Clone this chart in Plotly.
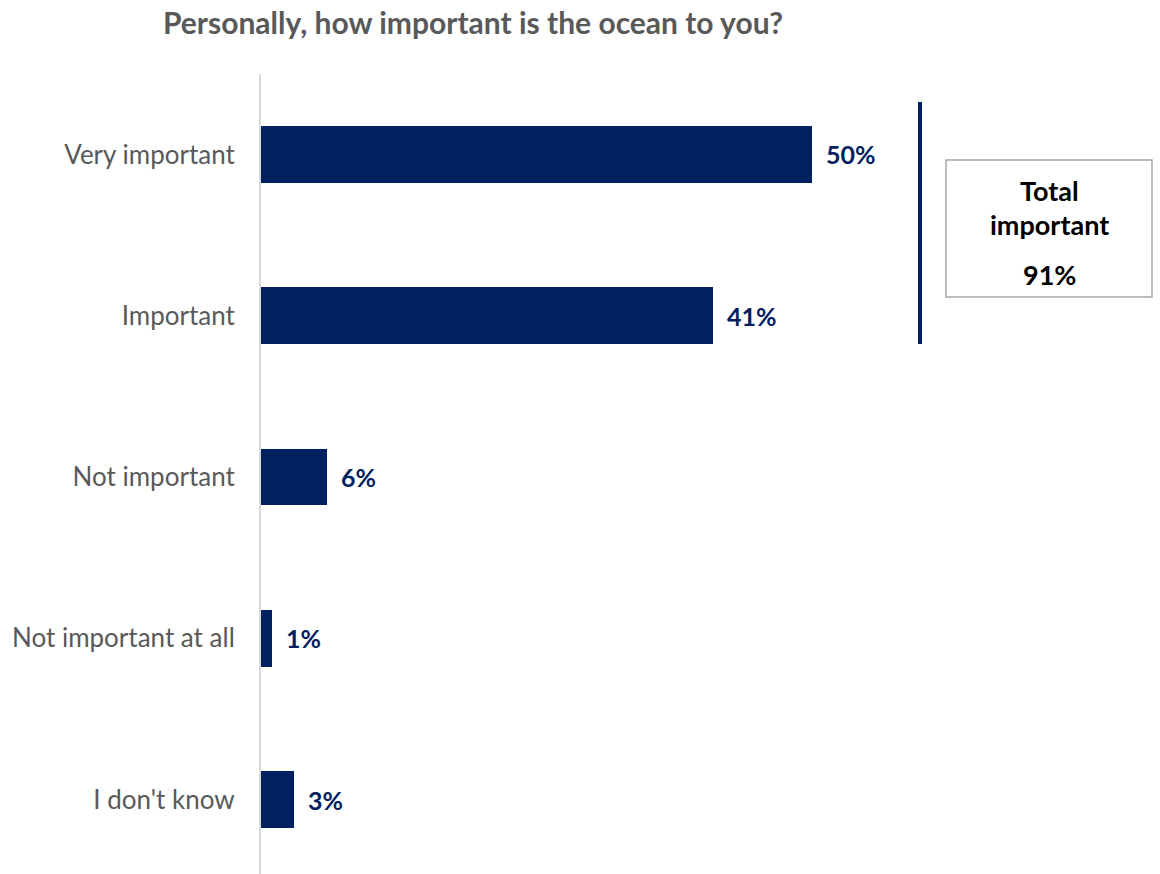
import plotly.graph_objects as go

categories = ["Very important", "Important", "Not important", "Not important at all", "I don't know"]
values = [50, 41, 6, 1, 3]
value_labels = ["50%", "41%", "6%", "1%", "3%"]

NAVY = "#002060"
GREY_TEXT = "#595959"
FONT = "Lato, 'Open Sans', sans-serif"

W, H = 1160, 874
LEFT, TOP = 261, 74

fig = go.Figure()
fig.add_trace(go.Bar(
    y=categories,
    x=values,
    orientation="h",
    marker=dict(color=NAVY, line=dict(width=0)),
    width=0.353,
    hoverinfo="skip",
))

# value labels just past each bar end
for cat, val, lab in zip(categories, values, value_labels):
    fig.add_annotation(
        x=val, y=cat, xref="x", yref="y",
        text=f"<b>{lab}</b>", showarrow=False,
        xanchor="left", yanchor="middle", xshift=12,
        font=dict(family=FONT, size=25, color=NAVY),
    )

# bracket grouping the two "important" answers
def px_x(p):
    return (p - LEFT) / (W - LEFT)

def px_y(p):
    return 1 - (p - TOP) / (H - TOP)

fig.add_shape(type="line", xref="paper", yref="paper",
              x0=px_x(920), x1=px_x(920), y0=px_y(102), y1=px_y(344),
              line=dict(color=NAVY, width=4))
fig.add_shape(type="rect", xref="paper", yref="paper",
              x0=px_x(946), x1=px_x(1152), y0=px_y(160), y1=px_y(297),
              line=dict(color="#a6a6a6", width=1.5), fillcolor="white")

total = values[0] + values[1]
box_cx = px_x(1049)
for text, ypix in [("Total", 190), ("important", 225), (f"{total}%", 274)]:
    fig.add_annotation(x=box_cx, y=px_y(ypix), xref="paper", yref="paper",
                       text=f"<b>{text}</b>", showarrow=False,
                       xanchor="center", yanchor="middle",
                       font=dict(family=FONT, size=27, color="black"))

fig.update_layout(
    width=W, height=H,
    margin=dict(l=LEFT, r=0, t=TOP, b=0),
    paper_bgcolor="white", plot_bgcolor="white",
    showlegend=False,
    title=dict(
        text="<b>Personally, how important is the ocean to you?</b>",
        x=473 / W, xanchor="center", y=1 - 23 / H, yanchor="middle",
        font=dict(family=FONT, size=30, color=GREY_TEXT),
    ),
    xaxis=dict(range=[0, (W - LEFT) / 11.02], visible=False, fixedrange=True),
    yaxis=dict(
        categoryorder="array", categoryarray=categories,
        range=[4.462, -0.499],
        showline=True, linecolor="#d9d9d9", linewidth=2,
        showgrid=False, zeroline=False, ticks="",
        ticklabelstandoff=19,
        tickfont=dict(family=FONT, size=26, color=GREY_TEXT),
    ),
    bargap=0,
)

fig.write_html("out.html")
